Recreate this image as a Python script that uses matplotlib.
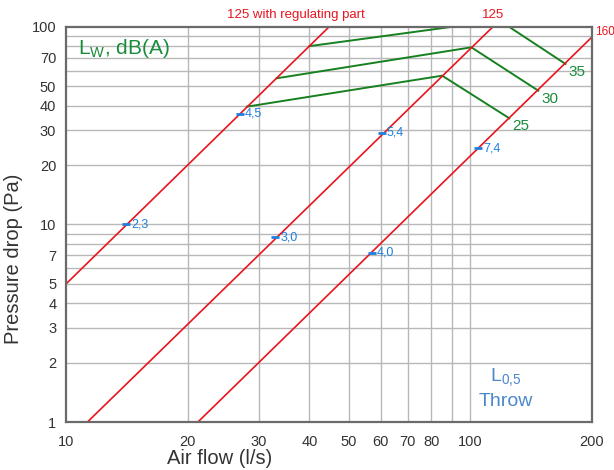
import matplotlib
matplotlib.use("Agg")
import matplotlib.pyplot as plt
from matplotlib.ticker import FixedLocator, NullLocator, FixedFormatter
import matplotlib.transforms as mtransforms

plt.rcParams['font.family'] = ['Liberation Sans', 'DejaVu Sans']

# ---- data ----
duct_labels = ['125 with regulating part', '125', '160']
duct_flow = [[10, 44.7], [11.3, 113.6], [21.2, 200]]
duct_dp = [[5, 100], [1, 100], [1, 89]]

sound_levels = ['25', '30', '35']
sound_flow = [[28.0, 85.2, 124.9], [33.2, 100.6, 147.3], [40.0, 118.0, 172.0]]
sound_dp = [[39.5, 56.7, 34.5], [55.0, 78.9, 47.6], [80.0, 108.0, 65.0]]

throw_labels = ['2,3', '4,5', '3,0', '5,4', '4,0', '7,4']
throw_flow = [14.1, 26.9, 32.9, 60.4, 57.0, 104.5]
throw_dp = [10.0, 36.3, 8.6, 29.1, 7.2, 24.3]

x_ticks = [10, 20, 30, 40, 50, 60, 70, 80, 100, 200]
x_grid = [20, 30, 40, 50, 60, 70, 80, 90, 100]
y_ticks = [1, 2, 3, 4, 5, 7, 10, 20, 30, 40, 50, 70, 100]
y_grid = [2, 3, 4, 5, 6, 7, 8, 9, 10, 20, 30, 40, 50, 60, 70, 80, 90]

RED = '#e8141e'
GREEN = '#17801f'
GREEN_T = '#1a8c3c'
BLUE = '#1f7fe0'
BLUE_T = '#4a88cc'
GRID = '#b8b8b8'
FRAME = '#6a6a6a'
TXT = '#333333'

fig = plt.figure(figsize=(6.14, 4.70), dpi=100)
ax = fig.add_axes([66/614, 1-422/470, 526/614, 395/470])
ax.set_xscale('log')
ax.set_yscale('log')
ax.set_xlim(10, 200)
ax.set_ylim(1, 100)

for gx in x_grid:
    ax.axvline(gx, color=GRID, lw=1.0, zorder=1)
for gy in y_grid:
    ax.axhline(gy, color=GRID, lw=1.0, zorder=1)

ax.xaxis.set_major_locator(FixedLocator(x_ticks))
ax.xaxis.set_major_formatter(FixedFormatter([str(v) for v in x_ticks]))
ax.xaxis.set_minor_locator(NullLocator())
ax.yaxis.set_major_locator(FixedLocator(y_ticks))
ax.yaxis.set_major_formatter(FixedFormatter([str(v) for v in y_ticks]))
ax.yaxis.set_minor_locator(NullLocator())
ax.tick_params(axis='both', length=0, labelsize=10.5, colors=TXT)
ax.tick_params(axis='x', pad=9)
ax.tick_params(axis='y', pad=7)
for s in ax.spines.values():
    s.set_color(FRAME)
    s.set_linewidth(1.6)
    s.set_zorder(5)

for fl, dp in zip(duct_flow, duct_dp):
    ax.plot(fl, dp, color=RED, lw=1.2, zorder=3)

for lab, fl, dp in zip(sound_levels, sound_flow, sound_dp):
    ax.plot(fl, dp, color=GREEN, lw=1.4, zorder=2)
    ax.annotate(lab, (fl[-1], dp[-1]), xytext=(3, -8), textcoords='offset pixels',
                ha='left', va='center', color=GREEN_T, fontsize=11, zorder=6)

for lab, fl, dp in zip(throw_labels, throw_flow, throw_dp):
    ax.plot([fl], [dp], marker='_', ms=6, mew=2.0, color=BLUE, zorder=4)
    ax.annotate(lab, (fl, dp), xytext=(5, 0), textcoords='offset pixels',
                ha='left', va='center', color=BLUE, fontsize=9, zorder=6)

trans = mtransforms.blended_transform_factory(ax.transData, ax.transAxes)
ax.text(37.0, 1.030, duct_labels[0], transform=trans, ha='center', va='center',
        color=RED, fontsize=9.5, clip_on=False)
ax.text(113.6, 1.030, duct_labels[1], transform=trans, ha='center', va='center',
        color=RED, fontsize=9.5, clip_on=False)
ax.text(1.0055, 0.987, duct_labels[2], transform=ax.transAxes, ha='left', va='center',
        color=RED, fontsize=8.5, clip_on=False)

ax.text((78-66)/526, (422-54)/395, r'L$_\mathregular{W}$, dB(A)', transform=ax.transAxes,
        ha='left', va='baseline', color=GREEN_T, fontsize=15)

ax.text((506-66)/526, (422-378)/395, r'L$_\mathregular{0{,}5}$', transform=ax.transAxes,
        ha='center', va='center', color=BLUE_T, fontsize=14)
ax.text((506-66)/526, (422-402)/395, 'Throw', transform=ax.transAxes,
        ha='center', va='center', color=BLUE_T, fontsize=14)

fig.text(220/614, 1-458/470, 'Air flow (l/s)', ha='center', va='center',
         color=TXT, fontsize=14.5)
fig.text(14/614, 1-259/470, 'Pressure drop (Pa)', ha='center', va='center',
         rotation=90, color=TXT, fontsize=14.5)

fig.savefig('out.png', dpi=100)
